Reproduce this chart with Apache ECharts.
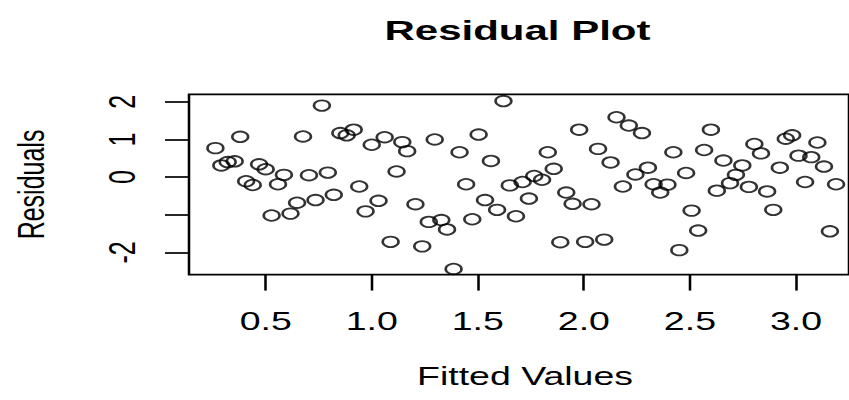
<!DOCTYPE html>
<html>
<head>
<meta charset="utf-8">
<script src="https://cdn.jsdelivr.net/npm/echarts@6/dist/echarts.min.js"></script>
<style>
html,body{margin:0;padding:0;background:#fff;overflow:hidden;}
#c{width:566px;height:400px;transform:scaleX(1.5);transform-origin:0 0;}
</style>
</head>
<body>
<div id="c"></div>
<script>
const fitted = [0.263,0.291,0.321,0.354,0.380,0.408,0.439,0.469,0.500,0.528,
0.558,0.586,0.617,0.648,0.676,0.704,0.735,0.765,0.793,0.821,
0.852,0.882,0.915,0.941,0.971,1.000,1.032,1.061,1.089,1.117,
1.144,1.167,1.206,1.238,1.269,1.297,1.328,1.355,1.386,1.414,
1.445,1.474,1.504,1.534,1.562,1.591,1.621,1.651,1.680,1.711,
1.741,1.766,1.803,1.830,1.858,1.889,1.917,1.947,1.978,2.006,
2.036,2.067,2.096,2.126,2.154,2.184,2.212,2.243,2.274,2.302,
2.329,2.360,2.394,2.422,2.450,2.482,2.508,2.539,2.567,2.599,
2.627,2.658,2.689,2.717,2.747,2.778,2.804,2.835,2.864,2.893,
2.924,2.952,2.982,3.012,3.043,3.072,3.101,3.132,3.160,3.189];
const residuals = [0.77,0.31,0.40,0.42,1.07,-0.11,-0.21,0.34,0.21,-1.02,
-0.19,0.06,-0.97,-0.68,1.08,0.05,-0.61,1.90,0.12,-0.47,
1.17,1.11,1.26,-0.25,-0.91,0.86,-0.63,1.06,-1.72,0.15,
0.93,0.69,-0.72,-1.84,-1.19,1.00,-1.14,-1.39,-2.44,0.66,
-0.19,-1.12,1.13,-0.61,0.43,-0.87,2.02,-0.22,-1.04,-0.13,
-0.57,0.03,-0.07,0.66,0.22,-1.73,-0.41,-0.71,1.26,-1.72,
-0.72,0.75,-1.66,0.39,1.59,-0.25,1.37,0.07,1.17,0.25,
-0.19,-0.41,-0.20,0.66,-1.94,0.11,-0.89,-1.42,0.72,1.26,
-0.36,0.44,-0.16,0.06,0.31,-0.26,0.88,0.63,-0.38,-0.87,
0.25,1.02,1.11,0.57,-0.13,0.53,0.92,0.28,-1.44,-0.19];
const xTicks = [0.5,1.0,1.5,2.0,2.5,3.0];
const yTicks = [-2,-1,0,1,2];
const yTickLabels = [-2,0,1,2];

const FONT = 'Liberation Sans, Arial, Helvetica, sans-serif';
const chart = echarts.init(document.getElementById('c'), null, {renderer:'svg'});
chart.setOption({
  animation:false,
  backgroundColor:'#fff',
  title:{
    text:'Residual Plot', left:340, top:12, textAlign:'center',
    textStyle:{fontFamily:FONT, fontSize:28, fontWeight:'bold', color:'#000'}
  },
  grid:{left:124.47, top:94.3, width:443.5, height:180.3, show:true, borderColor:'#000', borderWidth:1.7, containLabel:false},
  xAxis:{
    type:'value', min:0.1385, max:3.250,
    name:'Fitted Values', nameLocation:'middle', nameGap:89,
    nameTextStyle:{fontFamily:FONT, fontSize:25, color:'#000', padding:[0,0,0,8]},
    axisLine:{show:false, onZero:false},
    axisTick:{show:true, length:16, customValues:xTicks, lineStyle:{color:'#000', width:1.7}},
    axisLabel:{customValues:xTicks, margin:34, fontFamily:FONT, fontSize:25, color:'#000', formatter:v=>v.toFixed(1)},
    splitLine:{show:false}
  },
  yAxis:{
    type:'value', min:-2.59, max:2.2,
    name:'Residuals', nameLocation:'middle', nameGap:93, nameRotate:90,
    nameTextStyle:{fontFamily:FONT, fontSize:25, color:'#000'},
    axisLine:{show:false, onZero:false},
    axisTick:{show:true, length:16, customValues:yTicks, lineStyle:{color:'#000', width:1.7}},
    axisLabel:{customValues:yTickLabels, rotate:90, margin:32, fontFamily:FONT, fontSize:25, color:'#000'},
    splitLine:{show:false}
  },
  series:[{
    type:'scatter',
    data: fitted.map((x,i)=>[x, residuals[i]]),
    symbol:'circle', symbolSize:10.5,
    itemStyle:{color:'rgba(0,0,0,0)', borderColor:'#000', borderWidth:1.8},
    clip:false
  }]
});
</script>
</body>
</html>
